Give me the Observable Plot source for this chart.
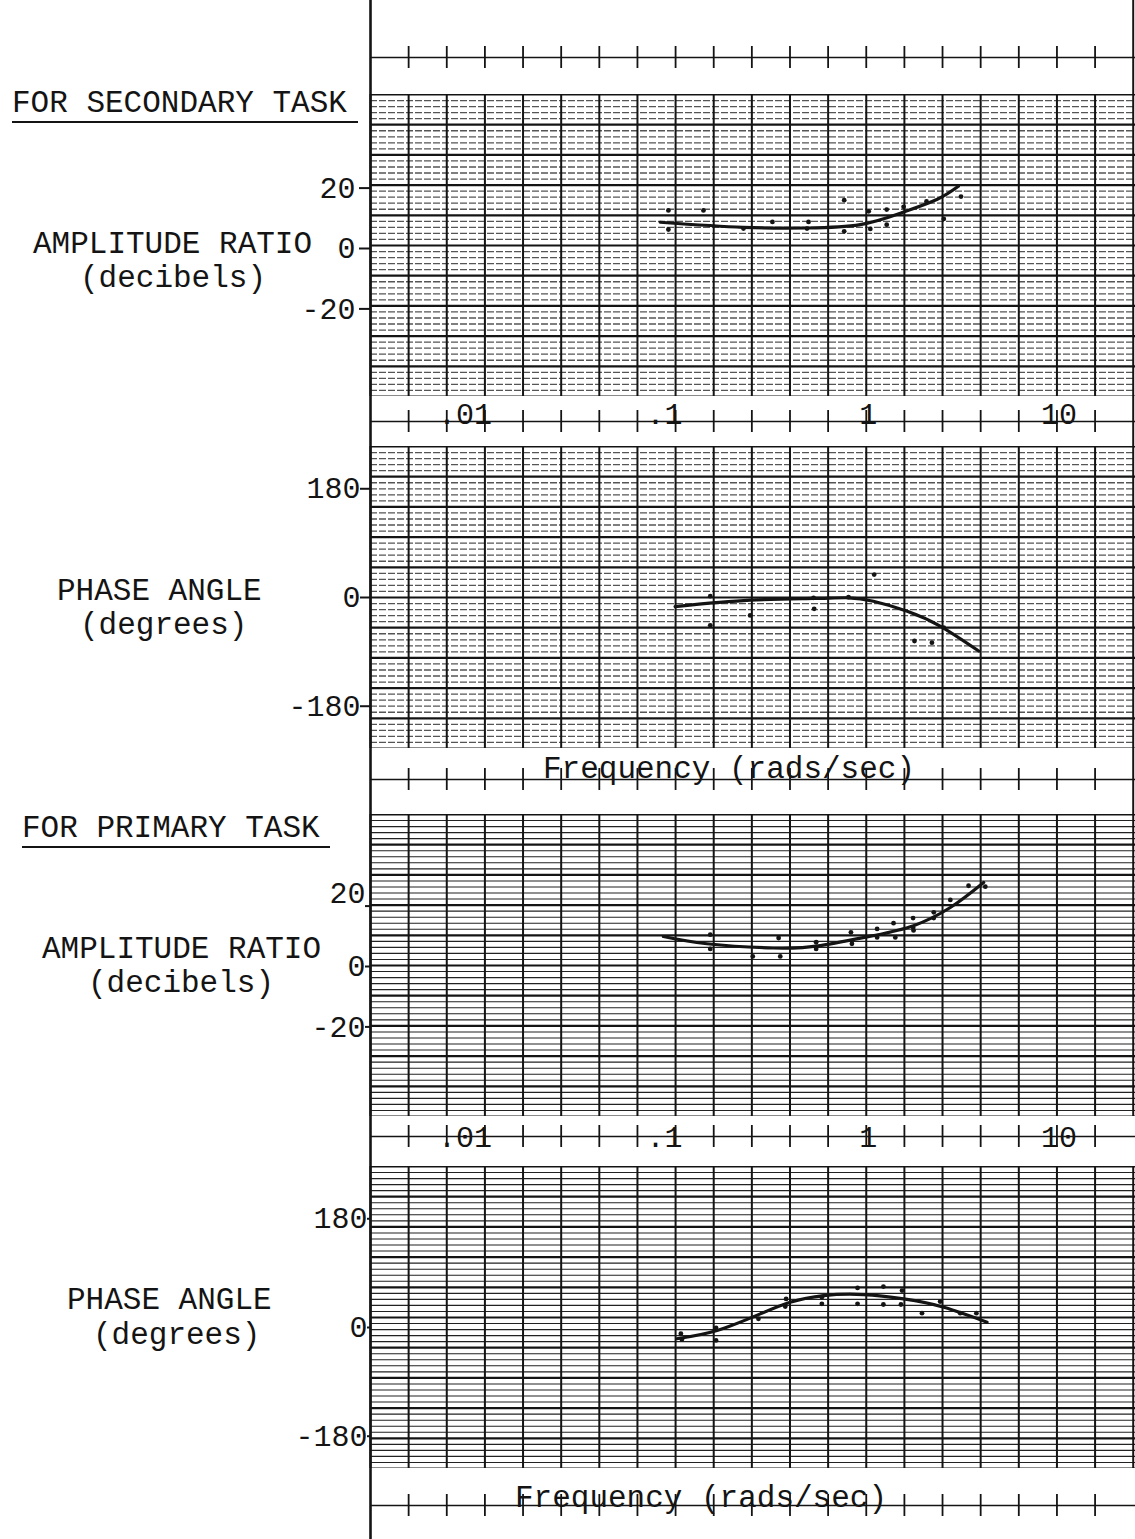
<!DOCTYPE html>
<html><head><meta charset="utf-8">
<script src="https://cdn.jsdelivr.net/npm/d3@7"></script>
<script src="https://cdn.jsdelivr.net/npm/@observablehq/plot@0.6"></script>
<style>
body{margin:0;background:#fff;}
#wrap{position:relative;width:1135px;height:1539px;overflow:hidden;background:#fff;}
#wrap > svg{display:block;}
#overlay{position:absolute;left:0;top:0;pointer-events:none;}
</style></head><body><div id="wrap"></div>
<script>
// ---- data ----
const freqTickValues = [0.01, 0.1, 1, 10];
const freqTickLabels = [".01", ".1", "1", "10"];
const ampTicks = [20, 0, -20];
const phaseTicks = [180, 0, -180];
const ampDomain = [-50, 50];
const phaseDomain = [-250, 250];
const freqDomain = [10 ** -2.6, 10 ** 1.412];

// secondary task – amplitude ratio (dB)
const secAmpCurve = [[0.083,7.7],[0.226,6.0],[0.49,5.8],[0.93,6.9],[1.56,11],[2.36,15.3],[3.04,19.6]];
const secAmpPoints = [[0.0917,11.6],[0.0917,5.3],[0.14,11.6],[0.227,5.6],[0.322,7.8],[0.498,7.8],[0.489,5.6],[0.766,15.0],[0.766,4.7],[1.03,11.3],[1.05,5.5],[1.28,11.9],[1.28,6.9],[1.57,12.8],[2.07,14.6],[2.55,8.8],[3.14,16.2]];
// secondary task – phase angle (deg)
const secPhaseCurve = [[0.0994,-15],[0.246,-4.5],[0.529,-1.6],[0.807,-0.5],[1.09,-6.1],[1.64,-22.6],[2.44,-47.3],[3.89,-88.6]];
const secPhasePoints = [[0.152,2.2],[0.152,-46],[0.246,-29.7],[0.529,-0.5],[0.533,-18.7],[0.807,0.5],[1.10,38],[1.79,-72],[2.21,-74.8],[2.55,-50]];
// primary task – amplitude ratio (dB)
const priAmpCurve = [[0.0863,9.6],[0.146,7.2],[0.326,5.8],[0.574,6.6],[1.09,9.9],[1.77,13.2],[2.76,19.2],[4.13,27.5]];
const priAmpPoints = [[0.152,10.2],[0.152,5.5],[0.254,3.0],[0.347,9.1],[0.354,3.0],[0.546,7.7],[0.546,5.5],[0.831,11.0],[0.841,7.2],[1.14,12.1],[1.14,9.3],[1.39,14.0],[1.42,9.3],[1.76,15.7],[1.76,12.6],[1.77,11.6],[2.26,17.6],[2.26,15.7],[2.76,21.7],[3.44,26.4],[4.21,26.1]];
// primary task – phase angle (deg)
const priPhaseCurve = [[0.1014,-35.2],[0.165,-21.5],[0.278,6.0],[0.399,25.3],[0.597,36.3],[0.968,38],[1.57,30.8],[2.55,17.1],[4.30,-7.7]];
const priPhasePoints = [[0.1066,-26.9],[0.1079,-36.3],[0.163,-17.1],[0.163,-38],[0.272,-2.2],[0.380,30.8],[0.376,18.2],[0.585,22.6],[0.585,33.5],[0.90,49],[0.90,22.6],[1.23,51.2],[1.23,21.5],[1.54,44.6],[1.52,21.5],[1.96,7.2],[2.44,26.4],[3.11,7.2],[3.78,7.2]];

// ---- helpers ----
const rows = a => a.map(([f, v]) => ({f, v}));
const ink = "#141414";
const mono = "'Liberation Mono','DejaVu Sans Mono',monospace";
const xGrid = d3.range(-2.6, 1.41, 0.2).map(e => 10 ** e);

function panel({height, domain, major, minor, ticks, curve, points, lightStyle, tickSize, tickPadding, textDy, raisedTick}) {
  const all = d3.range(domain[0], domain[1] + 1e-9, minor);
  const isMajor = v => Math.abs(Math.round(v / major) * major - v) < 1e-6;
  const majors = all.filter(isMajor);
  const minors = all.filter(v => !isMajor(v));
  const marks = [
    Plot.ruleY(minors, lightStyle),
    Plot.ruleY(majors, {stroke: ink, strokeWidth: 2.2}),
    Plot.ruleX(xGrid, {stroke: ink, strokeWidth: 2}),
    Plot.ruleX([freqDomain[0]], {stroke: ink, strokeWidth: 2.6}),
    Plot.line(rows(curve), {x: "f", y: "v", curve: "natural", stroke: ink, strokeWidth: 3.2}),
    Plot.dot(rows(points), {x: "f", y: "v", r: 2.4, fill: ink, stroke: "none"}),
    Plot.axisY(ticks, {label: null, tickSize, tickPadding, dy: textDy, strokeWidth: 2, fontSize: 30,
      tickFormat: d => d === raisedTick ? "" : String(d)})
  ];
  if (raisedTick !== undefined) {
    marks.push(Plot.axisY([raisedTick], {label: null, tickSize: 0, tickPadding: tickSize + tickPadding, dy: -12, fontSize: 30, tickFormat: d => String(d)}));
  }
  return Plot.plot({
    width: 1135, height,
    marginLeft: 370, marginRight: 0, marginTop: 0, marginBottom: 0,
    x: {type: "log", domain: freqDomain, axis: null},
    y: {domain, axis: null, label: null},
    style: {fontFamily: mono, fontSize: "30px", background: "#fff", color: ink},
    marks
  });
}

function band({height, lineAt, labels, labelDy, title, titleAt, titleDx, rightBorder}) {
  const f = 1 - lineAt / height;
  const t = 11 / height;
  const marks = [
    Plot.ruleX([freqDomain[0]], {stroke: ink, strokeWidth: 2.6}),
    Plot.ruleY([f], {stroke: ink, strokeWidth: 1.7}),
    Plot.ruleX(xGrid.slice(1, -1), {y1: f - t, y2: f + t, stroke: ink, strokeWidth: 1.8})
  ];
  if (rightBorder) marks.push(Plot.ruleX([xGrid[xGrid.length - 1]], {stroke: ink, strokeWidth: 2}));
  if (labels) {
    const table = freqTickValues.map((v, i) => ({v, label: freqTickLabels[i]}));
    marks.push(Plot.text(table.filter(d => d.label.startsWith(".")), {x: "v", y: f, text: "label", textAnchor: "end", dx: 7, dy: labelDy, lineAnchor: "middle", fontSize: 30, fill: ink}));
    marks.push(Plot.text(table.filter(d => !d.label.startsWith(".")), {x: "v", y: f, text: "label", textAnchor: "middle", dx: 2, dy: labelDy, lineAnchor: "middle", fontSize: 30, fill: ink}));
  }
  if (title) {
    marks.push(Plot.text([title], {text: d => d, frameAnchor: "top", dx: titleDx, dy: titleAt, lineAnchor: "middle", fontSize: 31, fill: ink}));
  }
  return Plot.plot({
    width: 1135, height,
    marginLeft: 370, marginRight: 0, marginTop: 0, marginBottom: 0,
    x: {type: "log", domain: freqDomain, axis: null},
    y: {domain: [0, 1], axis: null, label: null},
    style: {fontFamily: mono, fontSize: "30px", background: "#fff", color: ink},
    marks
  });
}

const upperLight = {stroke: "#555", strokeWidth: 1.3, strokeDasharray: "7,2"};
const lowerLight = {stroke: "#222", strokeWidth: 1.1};

const wrap = document.getElementById("wrap");
const parts = [
  band({height: 94, lineAt: 57, rightBorder: true}),
  panel({height: 302, domain: ampDomain, major: 10, minor: 2, ticks: ampTicks, curve: secAmpCurve, points: secAmpPoints, lightStyle: upperLight, tickSize: 11, tickPadding: 4, textDy: 3}),
  band({height: 50, lineAt: 25, labels: true, labelDy: -7, rightBorder: true}),
  panel({height: 302, domain: phaseDomain, major: 50, minor: 10, ticks: phaseTicks, curve: secPhaseCurve, points: secPhasePoints, lightStyle: upperLight, tickSize: 10, tickPadding: 0, textDy: 0}),
  band({height: 66, lineAt: 31, title: "Frequency (rads/sec)", titleAt: 20, titleDx: -24, rightBorder: true}),
  panel({height: 302, domain: ampDomain, major: 10, minor: 2, ticks: ampTicks, curve: priAmpCurve, points: priAmpPoints, lightStyle: lowerLight, tickSize: 5, tickPadding: 0, textDy: 1, raisedTick: 20}),
  band({height: 50, lineAt: 20, labels: true, labelDy: 1}),
  panel({height: 302, domain: phaseDomain, major: 50, minor: 10, ticks: phaseTicks, curve: priPhaseCurve, points: priPhasePoints, lightStyle: lowerLight, tickSize: 3, tickPadding: 0, textDy: 10}),
  band({height: 71, lineAt: 37, title: "Frequency (rads/sec)", titleAt: 29, titleDx: -52})
];
parts.forEach(p => wrap.appendChild(p));

// ---- left-side panel titles ----
const leftLabels = [
  {text: "FOR SECONDARY TASK", x: 12, y: 112, underline: 358},
  {text: "AMPLITUDE RATIO", x: 33, y: 253},
  {text: "(decibels)", x: 80, y: 287},
  {text: "PHASE ANGLE", x: 57, y: 600},
  {text: "(degrees)", x: 80, y: 634},
  {text: "FOR PRIMARY TASK", x: 22, y: 837, underline: 330},
  {text: "AMPLITUDE RATIO", x: 42, y: 958},
  {text: "(decibels)", x: 88, y: 992},
  {text: "PHASE ANGLE", x: 67, y: 1309},
  {text: "(degrees)", x: 93, y: 1344}
];
const overlay = d3.create("svg").attr("id", "overlay").attr("width", 1135).attr("height", 1539);
overlay.selectAll("text").data(leftLabels).join("text")
  .attr("x", d => d.x).attr("y", d => d.y)
  .attr("font-family", mono).attr("font-size", 31).attr("fill", ink)
  .text(d => d.text);
overlay.selectAll("line").data(leftLabels.filter(d => d.underline)).join("line")
  .attr("x1", d => d.x).attr("x2", d => d.underline)
  .attr("y1", d => d.y + 10).attr("y2", d => d.y + 10)
  .attr("stroke", ink).attr("stroke-width", 2.2);
wrap.appendChild(overlay.node());
</script>
</body></html>
